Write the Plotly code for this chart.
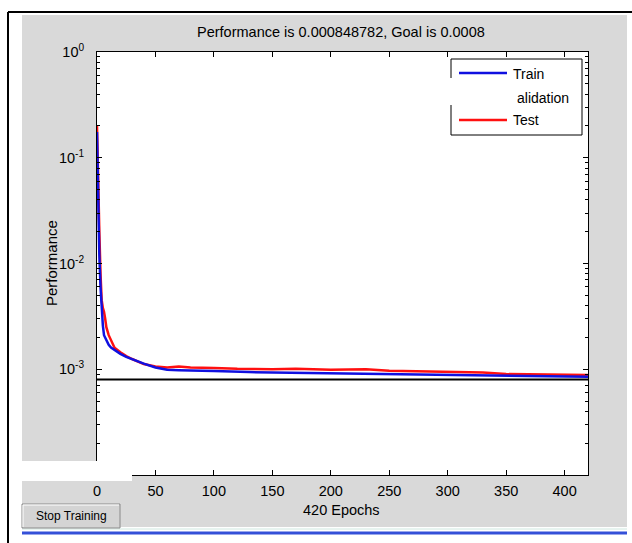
import plotly.graph_objects as go

# ---------------- data ----------------
train_epochs = [0, 1, 2, 3, 4, 5, 6, 8, 10, 12, 15, 20, 25, 30, 35, 40, 50, 60, 70, 80, 100,
                130, 160, 200, 250, 300, 350, 400, 420]
train_perf = [0.175, 0.04, 0.012, 0.006, 0.0035, 0.0026, 0.0021, 0.0019, 0.0017, 0.0016,
              0.00152, 0.0014, 0.00131, 0.00124, 0.00118, 0.00113, 0.00104, 0.00099,
              0.00098, 0.00097, 0.00096, 0.00094, 0.00093, 0.00092, 0.0009, 0.00089,
              0.00087, 0.00086, 0.000849]

test_epochs = [0, 1, 2, 3, 4, 5, 6, 7, 8, 10, 12, 15, 20, 25, 30, 40, 50, 60, 70, 80, 100,
               120, 150, 170, 200, 230, 250, 280, 300, 330, 350, 380, 400, 420]
test_perf = [0.2, 0.05, 0.02, 0.008, 0.0045, 0.0038, 0.0035, 0.003, 0.0025, 0.0021, 0.0019,
             0.0016, 0.00145, 0.00133, 0.00125, 0.00112, 0.00106, 0.00104, 0.00106, 0.00104,
             0.00103, 0.00101, 0.001, 0.00101, 0.00099, 0.001, 0.00097, 0.00096, 0.00095,
             0.00093, 0.0009, 0.00089, 0.00088, 0.00088]

goal_epochs = [0, 420]
goal_perf = [0.0008, 0.0008]

x_ticks = [0, 50, 100, 150, 200, 250, 300, 350, 400]
y_tickvals = [1, 0.1, 0.01, 0.001, 0.0001]
y_ticktext = ["10<sup>0</sup>", "10<sup>-1</sup>", "10<sup>-2</sup>", "10<sup>-3</sup>", "10<sup>-4</sup>"]

title_text = "Performance is 0.000848782, Goal is 0.0008"
xlabel = "420 Epochs"
ylabel = "Performance"
legend_names = ["Train", "alidation", "Test"]
button_text = "Stop Training"

# ---------------- layout helpers ----------------
W, H = 632, 543
L, R, T, B = 97, 588, 52, 475


def px(x):
    return (x - L) / (R - L)


def py(y):
    return (B - y) / (B - T)


FONT = "Liberation Sans, Arial, sans-serif"

fig = go.Figure()
fig.add_trace(go.Scatter(x=test_epochs, y=test_perf, mode="lines",
                         line=dict(color="#ff1010", width=2.5), showlegend=False))
fig.add_trace(go.Scatter(x=train_epochs, y=train_perf, mode="lines",
                         line=dict(color="#1010e0", width=2.5), showlegend=False))
fig.add_trace(go.Scatter(x=goal_epochs, y=goal_perf, mode="lines",
                         line=dict(color="black", width=2), showlegend=False))

shapes = []
shapes.append(dict(type="rect", xref="paper", yref="paper", layer="below",
                   x0=px(22), x1=px(627), y0=py(527), y1=py(15),
                   fillcolor="#d9d9d9", line=dict(width=0)))
shapes.append(dict(type="rect", xref="paper", yref="paper", layer="below",
                   x0=0, x1=1, y0=0, y1=1, fillcolor="white", line=dict(width=0)))
shapes.append(dict(type="line", xref="paper", yref="paper", x0=px(8), x1=px(632),
                   y0=py(12), y1=py(12), line=dict(color="black", width=2)))
shapes.append(dict(type="line", xref="paper", yref="paper", x0=px(8), x1=px(8),
                   y0=py(12), y1=py(543), line=dict(color="black", width=2)))
shapes.append(dict(type="line", xref="paper", yref="paper", x0=px(22), x1=px(627),
                   y0=py(529), y1=py(529), line=dict(color="#cfe8e0", width=1)))
shapes.append(dict(type="line", xref="paper", yref="paper", x0=px(22), x1=px(627),
                   y0=py(533), y1=py(533), line=dict(color="#3550d8", width=3)))
shapes.append(dict(type="rect", xref="paper", yref="paper", x0=px(22), x1=px(120),
                   y0=py(528), y1=py(504), fillcolor="#d4d4d4",
                   line=dict(color="#8a8a8a", width=1)))
shapes.append(dict(type="line", xref="paper", yref="paper", x0=px(23), x1=px(119),
                   y0=py(505), y1=py(505), line=dict(color="white", width=1)))
shapes.append(dict(type="line", xref="paper", yref="paper", x0=px(23), x1=px(23),
                   y0=py(505), y1=py(527), line=dict(color="white", width=1)))
shapes.append(dict(type="rect", xref="paper", yref="paper", x0=px(451), x1=px(582),
                   y0=py(135), y1=py(59), fillcolor="white",
                   line=dict(color="black", width=1)))
shapes.append(dict(type="line", xref="paper", yref="paper", x0=px(459), x1=px(507),
                   y0=py(73), y1=py(73), line=dict(color="#1010e0", width=2.5)))
shapes.append(dict(type="line", xref="paper", yref="paper", x0=px(459), x1=px(507),
                   y0=py(120), y1=py(120), line=dict(color="#ff1010", width=2.5)))
shapes.append(dict(type="rect", xref="paper", yref="paper", x0=px(450), x1=px(515),
                   y0=py(105), y1=py(78), fillcolor="white", line=dict(width=0)))
shapes.append(dict(type="rect", xref="paper", yref="paper", x0=px(15), x1=px(132),
                   y0=py(481), y1=py(461), fillcolor="white", line=dict(width=0)))


def ann(text, x, y, size=14.5, xanchor="center", angle=0):
    return dict(text=text, xref="paper", yref="paper", x=px(x), y=py(y),
                xanchor=xanchor, yanchor="middle", textangle=angle,
                showarrow=False, font=dict(family=FONT, size=size, color="black"))


annotations = [
    ann(title_text, 341, 32),
    ann(xlabel, 341, 510),
    ann(ylabel, 51, 263, size=15, angle=-90),
    ann(legend_names[0], 511, 74, size=14, xanchor="left"),
    ann(legend_names[1], 515, 98, size=14, xanchor="left"),
    ann(legend_names[2], 511, 120, size=14, xanchor="left"),
    ann(button_text, 71, 516, size=12),
]

fig.update_layout(
    width=W, height=H,
    margin=dict(l=L, r=W - R, t=T, b=H - B, pad=0),
    paper_bgcolor="white", plot_bgcolor="white",
    shapes=shapes, annotations=annotations, showlegend=False,
    xaxis=dict(range=[0, 420], tickvals=x_ticks, ticks="inside", ticklen=5,
               tickcolor="black", showline=True, linecolor="black", linewidth=1,
               mirror="ticks", showgrid=False, zeroline=False,
               tickfont=dict(family=FONT, size=14.5, color="black"),
               ticklabelstandoff=3),
    yaxis=dict(type="log", range=[-4, 0], tickvals=y_tickvals, ticktext=y_ticktext,
               ticks="inside", ticklen=5, tickcolor="black", showline=True,
               linecolor="black", linewidth=1, mirror="ticks", showgrid=False,
               zeroline=False, tickfont=dict(family=FONT, size=14.5, color="black"),
               ticklabelstandoff=9,
               minor=dict(ticks="inside", ticklen=3, tickcolor="black", dtick="D1",
                          showgrid=False)),
)

fig.write_html("out.html")
